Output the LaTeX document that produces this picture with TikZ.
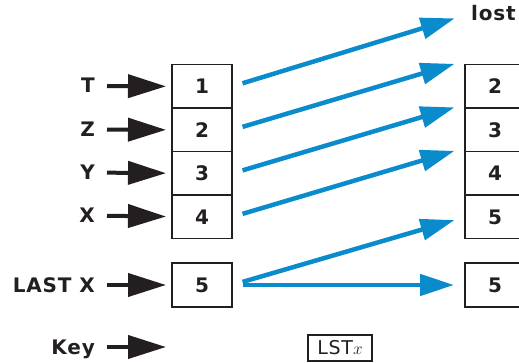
\documentclass[tikz,border=0pt]{standalone}
\usepackage{fontspec}
\setmainfont{DejaVu Sans}[LetterSpace=4]
\usetikzlibrary{arrows.meta,positioning}
\definecolor{StackInk}{HTML}{231F20}
\definecolor{StackBlue}{HTML}{0A8BCC}

\begin{document}
\begin{tikzpicture}[x=1pt,y=-1pt,
  reg/.style={draw=StackInk,line width=1.5pt,minimum width=60pt,minimum height=43.5pt,outer sep=0pt,inner sep=0pt,text=StackInk,font=\fontsize{20}{22}\selectfont\bfseries},
  lbl/.style={anchor=east,inner sep=2pt,text=StackInk,text height=14pt,text depth=0pt,font=\fontsize{20}{22}\selectfont\bfseries},
  keybox/.style={draw=StackInk,line width=1.2pt,minimum width=64pt,minimum height=26pt,inner sep=0pt,text=StackInk,font=\fontsize{19}{22}\selectfont},
  push/.style={-{Triangle[length=38pt,width=23pt]},draw=StackInk,line width=4pt,shorten <=10pt,shorten >=6pt},
  lift/.style={-{Triangle[length=34pt,width=21pt]},draw=StackBlue,line width=4.5pt,shorten <=11pt,shorten >=11pt}
]
\useasboundingbox (0,0) rectangle (519,363);
% stack before
\node[reg] (t1) at (202,86.5) {1};
\node[reg,below=0pt of t1] (t2) {2};
\node[reg,below=0pt of t2] (t3) {3};
\node[reg,below=0pt of t3] (t4) {4};
\node[reg,minimum height=44pt] (lx) at (202,285) {5};
% stack after
\node[reg] (r2) at (495,86.5) {2};
\node[reg,below=0pt of r2] (r3) {3};
\node[reg,below=0pt of r3] (r4) {4};
\node[reg,below=0pt of r4] (r5) {5};
\node[reg,minimum height=44pt] (rx) at (495,285) {5};
% register names
\node[lbl] (regT) at (97,86) {T};
\node[lbl] (regZ) at (97,129.5) {Z};
\node[lbl] (regY) at (97,172.5) {Y};
\node[lbl] (regX) at (97,215.5) {X};
\node[lbl] (regL) at (97,285) {LAST X};
\node[lbl] (key) at (97,347) {Key};
\node[lbl,anchor=west] (lost) at (469,14) {lost};
\node[keybox] (lstx) at (340,348) {LST$x$};
\coordinate (keyend) at (166,347);
\draw[push] (regT) -- (t1);
\draw[push] (regZ) -- (t2);
\draw[push] (regY) -- (t3);
\draw[push] (regX) -- (t4);
\draw[push] (regL) -- (lx);
\draw[push,shorten >=0pt] (key) -- (keyend);
% stack lift
\draw[lift,shorten >=15pt] (t1.east) -- (lost.west);
\draw[lift] (t2.east) -- ([yshift=4pt]r2.north west);
\draw[lift] (t3.east) -- ([yshift=4pt]r3.north west);
\draw[lift] (t4.east) -- ([yshift=4pt]r4.north west);
\draw[lift] (lx.east) -- (r5.west);
\draw[lift] (lx.east) -- (rx.west);
\end{tikzpicture}
\end{document}
